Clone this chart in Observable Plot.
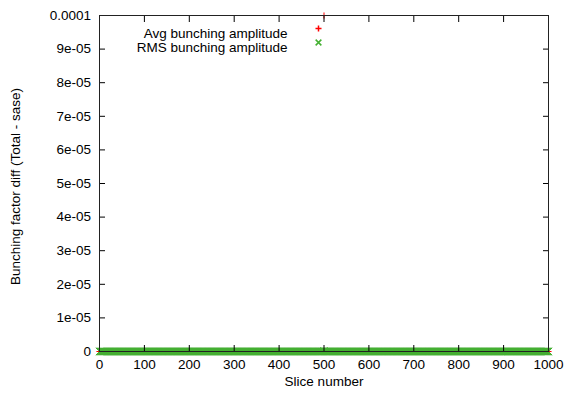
<!DOCTYPE html>
<html><head><meta charset="utf-8">
<script src="https://cdn.jsdelivr.net/npm/d3@7"></script>
<script src="https://cdn.jsdelivr.net/npm/@observablehq/plot@0.6"></script>
<style>body{margin:0;background:#fff}</style>
</head><body><div id="chart"></div>
<script>
// Slice numbers (0..1000) and the values:
// everything sits at ~0 except one Avg point at slice 500 at the top of the range.
const slices = d3.range(0, 1001);
const avgAmp = slices.map(s => (s === 500 ? 1e-4 : 0));
const rmsAmp = slices.map(s => (s === 500 ? 2e-7 : 0));
const seriesNames = ["Avg bunching amplitude", "RMS bunching amplitude"];
const xTicks = [0, 100, 200, 300, 400, 500, 600, 700, 800, 900, 1000];
const yTicks = [0, 1e-5, 2e-5, 3e-5, 4e-5, 5e-5, 6e-5, 7e-5, 8e-5, 9e-5, 1e-4];
const yTickLabels = ["0", "1e-05", "2e-05", "3e-05", "4e-05", "5e-05", "6e-05", "7e-05", "8e-05", "9e-05", "0.0001"];

const avgData = slices.map((s, i) => ({slice: s, value: avgAmp[i]}));
const rmsData = slices.map((s, i) => ({slice: s, value: rmsAmp[i]}));

const RED = "#ff0000", GREEN = "#44b032";
const FS = 13.5;
const font = "'Liberation Sans', Arial, Helvetica, sans-serif";

const chart = Plot.plot({
  width: 567, height: 395,
  marginLeft: 99, marginRight: 19, marginTop: 15, marginBottom: 44,
  style: {fontFamily: font, fontSize: FS + "px", background: "white", color: "black", overflow: "visible"},
  x: {domain: [0, 1000], label: null},
  y: {domain: [0, 1e-4], label: null},
  marks: [
    Plot.dot(avgData, {x: "slice", y: "value", symbol: "plus", r: 2.1, stroke: RED, strokeWidth: 1}),
    Plot.dot(rmsData, {x: "slice", y: "value", symbol: "times", r: 3.4, stroke: GREEN, strokeWidth: 1}),
    Plot.axisX({ticks: xTicks, tickSize: -6, tickPadding: 14, label: null, fontSize: FS, tickFormat: d => String(d)}),
    Plot.axisX({anchor: "top", ticks: xTicks, tickSize: -6, tickFormat: () => "", label: null}),
    Plot.axisY({ticks: yTicks, tickSize: -6, tickPadding: 14.5, label: null, fontSize: FS,
      tickFormat: d => yTickLabels[yTicks.indexOf(d)]}),
    Plot.axisY({anchor: "right", ticks: yTicks, tickSize: -6, tickFormat: () => "", label: null}),
    Plot.frame({stroke: "#222"}),
    Plot.text(["Slice number"], {frameAnchor: "bottom", dy: 34, fontSize: FS}),
    Plot.text(["Bunching factor diff (Total - sase)"], {frameAnchor: "left", dx: -84, dy: 3, rotate: -90, textAnchor: "middle", fontSize: FS}),
    Plot.text([seriesNames[0]], {frameAnchor: "top-left", dx: 188, dy: 13, textAnchor: "end", fontSize: FS}),
    Plot.text([seriesNames[1]], {frameAnchor: "top-left", dx: 188, dy: 27, textAnchor: "end", fontSize: FS}),
    Plot.dot([seriesNames[0]], {frameAnchor: "top-left", dx: 219, dy: 13, symbol: "plus", r: 2.1, stroke: RED}),
    Plot.dot([seriesNames[1]], {frameAnchor: "top-left", dx: 219, dy: 27, symbol: "times", r: 2.7, stroke: GREEN})
  ]
});
document.getElementById("chart").appendChild(chart);
</script>
</body></html>
